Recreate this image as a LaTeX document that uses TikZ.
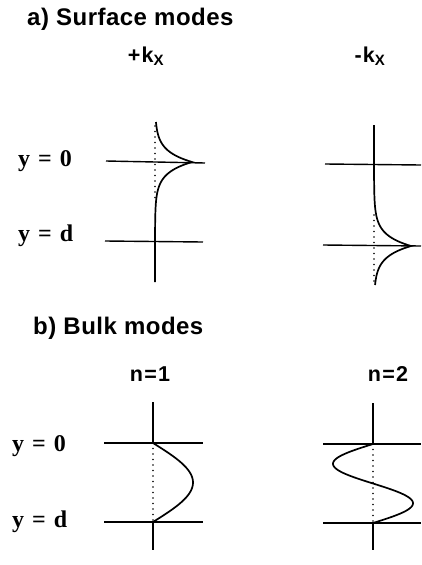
\documentclass[tikz,border=0pt]{standalone}
\usepackage{fontspec}
\setmainfont{Liberation Serif}
\setsansfont{Liberation Sans}
\usetikzlibrary{positioning}

\begin{document}
\begin{tikzpicture}[
  x=1pt, y=-1pt,
  title/.style={anchor=base west, inner sep=0pt, font=\sffamily\bfseries\fontsize{24}{26}\selectfont\addfontfeature{LetterSpace=2}},
  head/.style={anchor=base, inner sep=0pt, font=\sffamily\bfseries\fontsize{21.5}{24}\selectfont\addfontfeature{LetterSpace=6}},
  ylbl/.style={anchor=base west, inner sep=0pt, font=\bfseries\fontsize{24}{26}\selectfont},
  axis/.style={line width=1.4pt},
  wave/.style={line width=1.7pt},
  guide/.style={line width=1.7pt, line cap=round, dash pattern=on 0pt off 5.5pt}
]
\useasboundingbox (0,0) rectangle (421,565);

\node[title] (ta) at (27,25) {a) Surface modes};
\node[head] (hkp) at (146,62) {+k\textsubscript{\fontsize{15}{15}\selectfont X}};
\node[head] (hkm) at (370,62) {-k\textsubscript{\fontsize{15}{15}\selectfont X}};
\node[ylbl] (ya0) at (18,166) {y\hspace{8pt}=\hspace{8pt}0};
\node[ylbl] (yad) at (18,241) {y\hspace{8pt}=\hspace{8pt}d};

\node[title] (tb) at (33,334) {b) Bulk modes};
\node[head] (hn1) at (150,381) {n=1};
\node[head] (hn2) at (388,381) {n=2};
\node[ylbl] (yb0) at (12,451) {y\hspace{8pt}=\hspace{8pt}0};
\node[ylbl] (ybd) at (12,527) {y\hspace{8pt}=\hspace{8pt}d};

% surface modes
\coordinate (a0l) at (106,161); \coordinate (a0r) at (205,163);
\coordinate (adl) at (105,241); \coordinate (adr) at (203,242);
\coordinate (b0l) at (325,164); \coordinate (b0r) at (421,165);
\coordinate (bdl) at (323,245); \coordinate (bdr) at (421,246);
\draw[axis] (a0l) -- (a0r);
\draw[axis] (adl) -- (adr);
\draw[axis] (b0l) -- (b0r);
\draw[axis] (bdl) -- (bdr);
\coordinate (ga1) at (155,126); \coordinate (ga2) at (155,200);
\coordinate (gb1) at (374,215); \coordinate (gb2) at (374,282);
\draw[guide] (ga1) -- (ga2);
\draw[guide] (gb1) -- (gb2);
\draw[wave] plot[domain=122:282, samples=161, variable=\t] ({155+37*exp(-abs(\t-162)/11)}, \t);
\draw[wave] plot[domain=125:285, samples=161, variable=\t] ({374+37*exp(-abs(\t-246)/11)}, \t);

% bulk modes
\coordinate (c0l) at (104,443); \coordinate (c0r) at (203,443);
\coordinate (cdl) at (104,522); \coordinate (cdr) at (203,522);
\coordinate (d0l) at (323,444); \coordinate (d0r) at (421,444);
\coordinate (ddl) at (323,523); \coordinate (ddr) at (421,523);
\draw[axis] (c0l) -- (c0r);
\draw[axis] (cdl) -- (cdr);
\draw[axis] (d0l) -- (d0r);
\draw[axis] (ddl) -- (ddr);
\coordinate (ct) at (153,402); \coordinate (c0) at (153,443);
\coordinate (cd) at (153,522); \coordinate (cb) at (153,550);
\coordinate (dt) at (373,403); \coordinate (d0) at (373,444);
\coordinate (dd) at (373,523); \coordinate (db) at (373,550);
\draw[axis] (ct) -- (c0);
\draw[guide] (c0) -- (cd);
\draw[axis] (cd) -- (cb);
\draw[axis] (dt) -- (d0);
\draw[guide] (d0) -- (dd);
\draw[axis] (dd) -- (db);
\draw[wave] plot[domain=0:1, samples=60, variable=\t] ({153+40*sin(180*\t)}, {443+79*\t});
\draw[wave] plot[domain=0:1, samples=80, variable=\t] ({373-40*sin(360*\t)}, {444+79*\t});
\end{tikzpicture}
\end{document}
